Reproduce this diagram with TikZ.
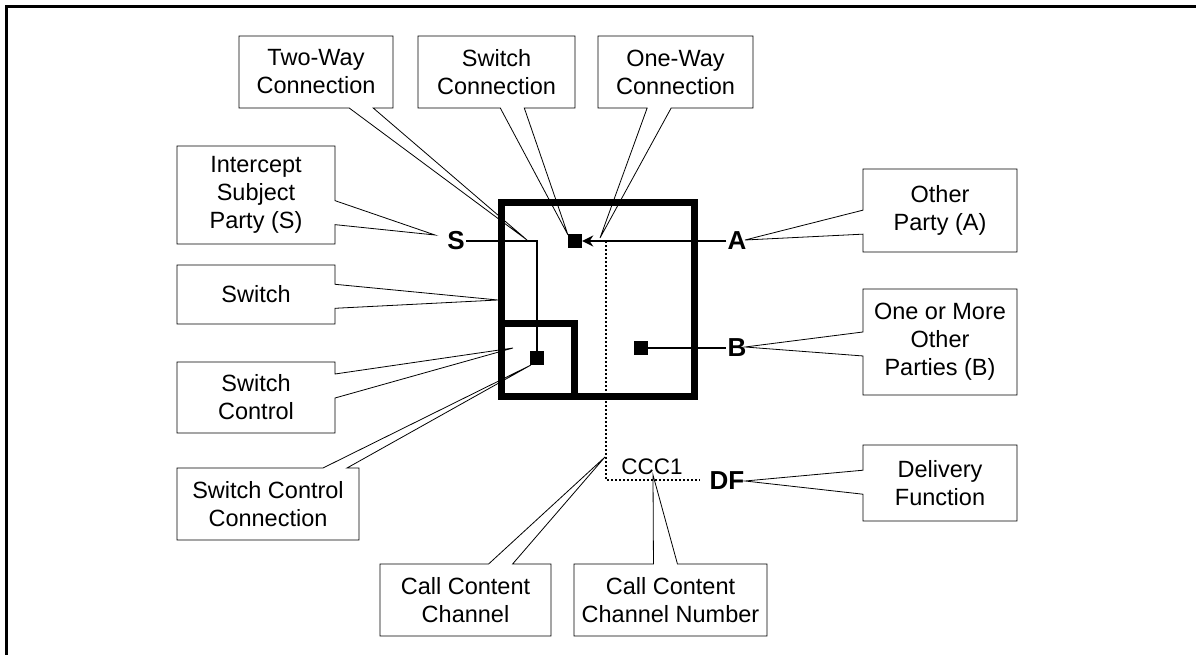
\documentclass[tikz,border=0pt]{standalone}
\usepackage{fontspec}
\setmainfont{Liberation Sans}
\usetikzlibrary{arrows.meta, shapes.callouts}

\tikzset{
  note/.style={rectangle callout, draw, line width=.8pt, align=center, inner sep=0pt,
               callout pointer width=24pt, font=\fontsize{23.5}{28}\selectfont},
  party/.style={inner sep=1pt, font=\fontsize{26}{30}\selectfont\bfseries},
  wall/.style={line width=7pt},
  link/.style={line width=2pt},
  port/.style={fill, minimum size=14pt, inner sep=0pt},
}

\begin{document}
\begin{tikzpicture}[x=1pt, y=-1pt]
      \useasboundingbox (0,0) rectangle (1196,655);
      \draw[line width=3pt] (6.5,655) -- (6.5,6.5) -- (1196,6.5);
      % switch
      \draw[wall] (501,203) rectangle (694,396);
      \draw[wall] (501,323) rectangle (574,396);
      \node[port] (ctrlsq) at (537,358) {};
      \node[port] (swsq) at (575,241) {};
      \node[port] (bsq) at (641,348) {};
      % parties
      \node[party] (S) at (456,241) {S};
      \node[party] (A) at (737,241) {A};
      \node[party] (B) at (737,348) {B};
      \node[party] (DF) at (727,481) {DF};
      \draw[link] (S.east) -- (ctrlsq |- S) -- (ctrlsq);
      \draw[link, -{Stealth[length=11pt, width=11pt]}] (A.west) -- (swsq.east);
      \draw[link] (bsq) -- (B.west);
      % call content channel
      \coordinate (cctop) at (606,241);
      \coordinate (ccbend) at (606,480);
      \coordinate (ccend) at (700,480);
      \draw[line width=2.5pt, dash pattern=on 2pt off 2pt] (cctop) -- (ccbend) -- (ccend);
      \node[font=\fontsize{22.5}{26}\selectfont, inner sep=0pt] (ccc) at (652,467) {CCC1};
      % pointer tips
      \coordinate (twtip) at (527,240);
      \coordinate (sctip) at (568,235);
      \coordinate (owtip) at (600,238);
      \coordinate (stip) at (435,235);
      \coordinate (swtip) at (498,300);
      \coordinate (cttip) at (513,348);
      \coordinate (cctip) at (531,365);
      \coordinate (chtip) at (605,457);
      \coordinate (cntip) at (653,475);
      \coordinate (atip) at (745,240);
      \coordinate (btip) at (745,347);
      \coordinate (dftip) at (745,481);
      % notes
      \node[note, minimum width=154pt, minimum height=72pt, callout absolute pointer=(twtip)]
        (twoway) at (316,72) {Two-Way\\Connection};
      \node[note, minimum width=157pt, minimum height=72pt, callout absolute pointer=(sctip)]
        (swconn) at (496.5,72) {Switch\\Connection};
      \node[note, minimum width=155pt, minimum height=72pt, callout absolute pointer=(owtip)]
        (oneway) at (675.5,72) {One-Way\\Connection};
      \node[note, minimum width=158pt, minimum height=98pt, callout absolute pointer=(stip)]
        (subject) at (256,195) {Intercept\\Subject\\Party (S)};
      \node[note, minimum width=158pt, minimum height=59pt, callout absolute pointer=(swtip)]
        (swnote) at (256,294.5) {Switch};
      \node[note, minimum width=158pt, minimum height=71pt, callout absolute pointer=(cttip)]
        (ctrlnote) at (256,397.5) {Switch\\Control};
      \node[note, minimum width=182pt, minimum height=72pt, callout absolute pointer=(cctip)]
        (ctrlconn) at (268,504) {Switch Control\\Connection};
      \node[note, minimum width=171pt, minimum height=72pt, callout absolute pointer=(chtip)]
        (ccnote) at (465.5,600) {Call Content\\Channel};
      \node[note, minimum width=193pt, minimum height=72pt, callout absolute pointer=(cntip)]
        (ccnum) at (670.5,600) {Call Content\\Channel Number};
      \node[note, minimum width=154pt, minimum height=83pt, callout absolute pointer=(atip)]
        (otherA) at (940,210.5) {Other\\Party (A)};
      \node[note, minimum width=154pt, minimum height=106pt, callout absolute pointer=(btip)]
        (otherB) at (940,342) {One or More\\Other\\Parties (B)};
      \node[note, minimum width=154pt, minimum height=76pt, callout absolute pointer=(dftip)]
        (dfnote) at (940,483) {Delivery\\Function};
    \end{tikzpicture}
\end{document}
